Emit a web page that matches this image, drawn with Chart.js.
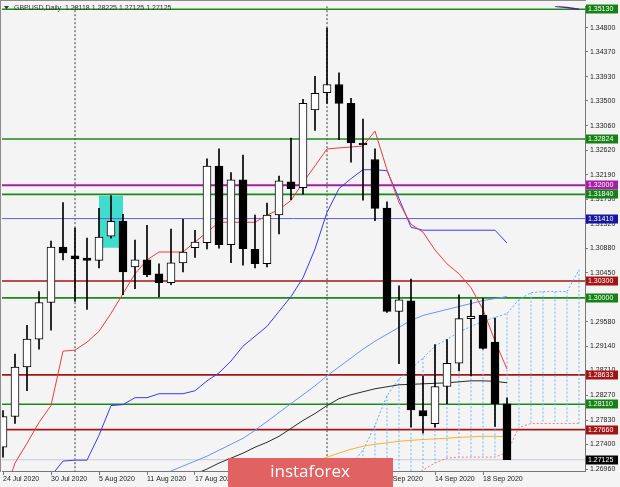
<!DOCTYPE html>
<html>
<head>
<meta charset="utf-8">
<title>GBPUSD,Daily</title>
<script src="https://cdn.jsdelivr.net/npm/chart.js@4.4.1/dist/chart.umd.min.js"></script>
<style>
  html, body { margin: 0; padding: 0; background: #f4f4f4; }
  canvas { display: block; }
</style>
</head>
<body>
<canvas id="chart" width="620" height="487"></canvas>
<script>
"use strict";

const symbol = "GBPUSD,Daily";

// bar 0 = 24 Jul 2020 ... bar 42 = 22 Sep 2020
const opens = [1.27347, 1.27893, 1.28773, 1.29267, 1.29918, 1.30904, 1.30746, 1.30710, 1.30666, 1.31098,
    1.31362, 1.30552, 1.30675, 1.30429, 1.30270, 1.30622, 1.30895, 1.30980, 1.32343, 1.30945,
    1.32096, 1.30864, 1.30610, 1.31473, 1.32061, 1.31961, 1.33339, 1.33646, 1.33792, 1.33457,
    1.32753, 1.32459, 1.31596, 1.29760, 1.29948, 1.27999, 1.27764, 1.28427, 1.28839, 1.29631,
    1.29689, 1.29214, 1.28118];
const highs = [1.27999, 1.29002, 1.29513, 1.30112, 1.31010, 1.31696, 1.31239, 1.31063, 1.31591, 1.31820,
    1.31485, 1.31027, 1.31291, 1.30605, 1.31221, 1.31397, 1.31203, 1.32471, 1.32647, 1.32225,
    1.32536, 1.31473, 1.31684, 1.32167, 1.32841, 1.33528, 1.33938, 1.34795, 1.33998, 1.33545,
    1.33176, 1.32647, 1.31709, 1.30217, 1.30335, 1.28615, 1.29173, 1.29261, 1.30054, 1.29966,
    1.29994, 1.29642, 1.28225];
const lows = [1.27171, 1.27770, 1.28351, 1.29090, 1.29425, 1.30675, 1.29936, 1.29795, 1.30534, 1.31063,
    1.30059, 1.30165, 1.30376, 1.30024, 1.30235, 1.30464, 1.30719, 1.30869, 1.30886, 1.30628,
    1.30582, 1.30534, 1.30552, 1.31138, 1.31744, 1.31843, 1.32977, 1.33457, 1.32811, 1.32413,
    1.31737, 1.31374, 1.29742, 1.28832, 1.27705, 1.27599, 1.27705, 1.28117, 1.28703, 1.28615,
    1.29091, 1.27717, 1.27125];
const closes = [1.27893, 1.28773, 1.29267, 1.29918, 1.30904, 1.30798, 1.30693, 1.30666, 1.31080, 1.31362,
    1.30464, 1.30675, 1.30411, 1.30270, 1.30622, 1.30816, 1.30992, 1.32343, 1.30945, 1.32096,
    1.30874, 1.30610, 1.31473, 1.32079, 1.31943, 1.33457, 1.33633, 1.33792, 1.33457, 1.32753,
    1.32723, 1.31591, 1.29760, 1.29966, 1.28011, 1.27905, 1.28427, 1.28839, 1.29631, 1.29672,
    1.29103, 1.28117, 1.27125];

// date labels on the time axis
const tickBars = [0, 4, 8, 12, 16, 20, 24, 28, 32, 36, 40];
const tickLabels = ["24 Jul 2020", "30 Jul 2020", "5 Aug 2020", "11 Aug 2020", "17 Aug 2020",
    "21 Aug 2020", "27 Aug 2020", "2 Sep 2020", "8 Sep 2020", "14 Sep 2020", "18 Sep 2020"];

// price labels on the right axis
const priceTicks = [1.26960, 1.27400, 1.27830, 1.28270, 1.28710, 1.29140, 1.29580, 1.30010, 1.30450,
    1.30880, 1.31320, 1.31750, 1.32190, 1.32620, 1.33060, 1.33500, 1.33930, 1.34370, 1.34800];
const priceMin = 1.26925;
const priceMax = 1.35183;

// indicators (first bar index + values)
const tenkanFrom = 0;
const tenkan = [1.26450, 1.27066, 1.27418, 1.27787, 1.28087, 1.29055, 1.29073, 1.29214, 1.29407, 1.29724,
    1.30077, 1.30429, 1.30675, 1.30816, 1.30816, 1.30816, 1.30992, 1.31168, 1.31344, 1.31344,
    1.31344, 1.31344, 1.31468, 1.31573, 1.31732, 1.32049, 1.32348, 1.32647, 1.32665, 1.32682,
    1.32700, 1.32964, 1.32278, 1.31696, 1.31309, 1.31168, 1.30851, 1.30605, 1.30429, 1.30182,
    1.29795, 1.29231, 1.28738];
const kijunFrom = 4;
const kijun = [1.26836, 1.27101, 1.27118, 1.27118, 1.27559, 1.28087, 1.28104, 1.28228, 1.28228, 1.28298,
    1.28298, 1.28298, 1.28351, 1.28527, 1.28668, 1.28879, 1.29143, 1.29319, 1.29495, 1.29760,
    1.30024, 1.30358, 1.30869, 1.31520, 1.31943, 1.32119, 1.32278, 1.32278, 1.32260, 1.31767,
    1.31256, 1.31203, 1.31203, 1.31203, 1.31203, 1.31203, 1.31203, 1.31203, 1.30975];
const maFastFrom = 13;
const maFast = [1.26840, 1.26925, 1.27013, 1.27101, 1.27189, 1.27294, 1.27400, 1.27506, 1.27647, 1.27805,
    1.27964, 1.28122, 1.28280, 1.28439, 1.28615, 1.28774, 1.28932, 1.29090, 1.29231, 1.29355,
    1.29478, 1.29601, 1.29689, 1.29742, 1.29795, 1.29848, 1.29900, 1.29953, 1.29988, 1.30024];
const maMidFrom = 16;
const maMid = [1.26870, 1.26960, 1.27066, 1.27154, 1.27242, 1.27347, 1.27435, 1.27541, 1.27682, 1.27823,
    1.27946, 1.28087, 1.28210, 1.28280, 1.28333, 1.28386, 1.28421, 1.28457, 1.28465, 1.28474,
    1.28483, 1.28492, 1.28509, 1.28527, 1.28527, 1.28518, 1.28492];
const maSlowFrom = 25;
const maSlow = [1.27013, 1.27083, 1.27171, 1.27242, 1.27312, 1.27365, 1.27400, 1.27426, 1.27453, 1.27471,
    1.27483, 1.27497, 1.27506, 1.27523, 1.27532, 1.27541, 1.27541, 1.27532];
const spanFrom = 29;
const spanA = [1.27030, 1.27294, 1.27735, 1.28263, 1.28562, 1.28738, 1.28932, 1.29143, 1.29267, 1.29390,
    1.29495, 1.29583, 1.29654, 1.29724, 1.29971, 1.30094, 1.30112, 1.30112, 1.30112, 1.30499];
const spanB = [1.26700, 1.26720, 1.26740, 1.26760, 1.26780, 1.26820, 1.26942, 1.27066, 1.27154, 1.27171,
    1.27171, 1.27171, 1.27171, 1.27259, 1.27700, 1.27770, 1.27770, 1.27770, 1.27770, 1.27770];
const hatchFrom = 30;
const topMarkFrom = 46;
const topMark = [1.35183, 1.35160, 1.35130];

// horizontal levels
const levels = [1.35130, 1.32824, 1.32000, 1.31840, 1.31410, 1.30300, 1.30000, 1.28633, 1.28110, 1.27660];
const levelColors = ["#1b891b", "#1b891b", "#a3209f", "#1b891b", "#5e5eea", "#a51616", "#1b891b", "#a51616", "#1b891b", "#a51616"];
const levelWidths = [1.6, 1.6, 2, 1.6, 1, 1.6, 1.6, 1.6, 1.6, 1.6];
const tagColors = ["#168216", "#168216", "#a61ea6", "#168216", "#1616a0", "#a31414", "#168216", "#a31414", "#168216", "#a31414"];
const bidPrice = 1.27125;

// period separators and highlighted zone
const separators = [6, 27];
const zoneBars = [8, 10];
const zoneTop = 1.31814;
const zoneBottom = 1.30892;

const bars = opens.map((v, i) => i);

function lineSet(points, color, width, dash, order) {
    return {
        type: "line",
        data: points,
        borderColor: color,
        borderWidth: width,
        borderDash: dash || [],
        pointRadius: 0,
        tension: 0,
        spanGaps: false,
        fill: false,
        order: order
    };
}

function series(from, values) {
    return values.map((v, k) => ({ x: from + k, y: v }));
}

function verticals(xs, topOf, bottomOf) {
    const pts = [];
    xs.forEach((x, k) => {
        pts.push({ x: x, y: topOf(k) }, { x: x, y: bottomOf(k) }, { x: x, y: null });
    });
    return pts;
}

function flat(price) {
    return [{ x: -2, y: price }, { x: 50, y: price }];
}

const datasets = [];

// candle bodies and wicks
datasets.push({
    type: "bar",
    data: bars.map(i => ({ x: i, y: [opens[i], closes[i]] })),
    backgroundColor: bars.map(i => closes[i] >= opens[i] ? "#ffffff" : "#000000"),
    borderColor: "#000000",
    borderWidth: 1,
    borderSkipped: false,
    barThickness: 8,
    minBarLength: 1,
    grouped: false,
    order: 0
});
datasets.push({
    type: "bar",
    data: bars.map(i => ({ x: i, y: [lows[i], highs[i]] })),
    backgroundColor: "#000000",
    barThickness: 1,
    grouped: false,
    order: 1
});

// indicators
datasets.push(lineSet(series(tenkanFrom, tenkan), "#f23a3a", 1, null, 2));
datasets.push(lineSet(series(kijunFrom, kijun), "#3a3af0", 1, null, 2));
datasets.push(lineSet(series(maFastFrom, maFast), "#6c94ee", 1, null, 2));
datasets.push(lineSet(series(maMidFrom, maMid), "#2a2a2a", 1, null, 2));
datasets.push(lineSet(series(maSlowFrom, maSlow), "#f5b232", 1, null, 2));
datasets.push(lineSet(series(topMarkFrom, topMark), "#5a1a9a", 1.5, null, 2));

// cloud
datasets.push(lineSet(series(spanFrom, spanA), "#5caaf0", 1, [2, 2], 3));
datasets.push(lineSet(series(spanFrom, spanB), "#e08484", 1, [2, 2], 3));
const hatchXs = spanA.map((v, k) => spanFrom + k).filter(x => x >= hatchFrom);
datasets.push(lineSet(
    verticals(hatchXs, k => spanA[hatchXs[k] - spanFrom], k => spanB[hatchXs[k] - spanFrom]),
    "#72b6f2", 1, [2, 2], 3));

// levels
levels.forEach((lv, k) => {
    datasets.push(lineSet(flat(lv), levelColors[k], levelWidths[k], null, 4));
});
datasets.push(lineSet(flat(bidPrice), "#c9c9e2", 1, null, 4));

// month separators
datasets.push(lineSet(verticals(separators, () => priceMax, () => priceMin), "#3a3a3a", 1, [2, 2], 4));

// highlighted zone
datasets.push({
    type: "line",
    data: zoneBars.map(x => ({ x: x, y: zoneTop })),
    borderWidth: 0,
    borderColor: "rgba(0,0,0,0)",
    backgroundColor: "#40dccc",
    pointRadius: 0,
    fill: { value: zoneBottom },
    order: 9
});

const decor = {
    id: "decor",
    beforeDraw(chart) {
        const ctx = chart.ctx;
        ctx.save();
        ctx.fillStyle = "#f4f4f4";
        ctx.fillRect(0, 0, chart.width, chart.height);
        ctx.restore();
    },
    afterDraw(chart) {
        const ctx = chart.ctx;
        const y = chart.scales.y;
        ctx.save();
        // frame top / left
        ctx.fillStyle = "#8c8c8c";
        ctx.fillRect(0, 0, 586, 1);
        ctx.fillRect(0, 0, 1, 472);

        // price tags
        ctx.font = "7px 'Liberation Sans'";
        ctx.textBaseline = "middle";
        ctx.textAlign = "left";
        const tag = (price, bg) => {
            const py = Math.round(y.getPixelForValue(price));
            ctx.fillStyle = bg;
            ctx.fillRect(586, py - 4.5, 32, 9);
            ctx.fillStyle = "#ffffff";
            ctx.fillText(price.toFixed(5), 588, py);
        };
        levels.forEach((lv, k) => tag(lv, tagColors[k]));
        tag(bidPrice, "#000000");

        // header
        const last = opens.length - 1;
        ctx.fillStyle = "#3a3a3a";
        ctx.beginPath();
        ctx.moveTo(4, 6);
        ctx.lineTo(9, 6);
        ctx.lineTo(6.5, 9.5);
        ctx.closePath();
        ctx.fill();
        ctx.fillStyle = "#333333";
        ctx.fillText(symbol + "  " + [opens[last], highs[last], lows[last], closes[last]]
            .map(v => v.toFixed(5)).join(" "), 14, 8);

        // watermark
        ctx.fillStyle = "#e06262";
        ctx.fillRect(228, 458, 165, 29);
        ctx.fillStyle = "#ffffff";
        ctx.font = "17px 'Open Sans'";
        ctx.textAlign = "center";
        ctx.fillText("instaforex", 310, 472);
        ctx.restore();
    }
};

Chart.defaults.font.family = "'Liberation Sans', sans-serif";
Chart.defaults.font.size = 7;

new Chart(document.getElementById("chart"), {
    type: "line",
    data: { datasets: datasets },
    options: {
        responsive: false,
        animation: false,
        devicePixelRatio: 1,
        events: [],
        layout: { padding: { left: 2, top: 2, right: 0, bottom: 0 } },
        plugins: { legend: { display: false }, tooltip: { enabled: false } },
        scales: {
            x: {
                type: "linear",
                min: -1 / 12,
                max: 48.5,
                offset: false,
                afterBuildTicks: s => { s.ticks = tickBars.map(v => ({ value: v })); },
                afterFit: s => { s.height = 16; },
                ticks: {
                    autoSkip: false,
                    maxRotation: 0,
                    align: "start",
                    padding: 0,
                    color: "#222222",
                    callback: v => tickLabels[tickBars.indexOf(v)]
                },
                grid: { drawOnChartArea: false, offset: false, tickLength: 4, color: "#777777" },
                border: { color: "#777777", width: 1 }
            },
            y: {
                position: "right",
                min: priceMin,
                max: priceMax,
                beginAtZero: false,
                afterBuildTicks: s => { s.ticks = priceTicks.map(v => ({ value: v })); },
                afterFit: s => { s.width = 35; },
                ticks: { padding: 2, color: "#222222", callback: v => v.toFixed(5) },
                grid: { drawOnChartArea: false, tickLength: 3, color: "#777777" },
                border: { color: "#777777", width: 1 }
            }
        }
    },
    plugins: [decor]
});
</script>
</body>
</html>
